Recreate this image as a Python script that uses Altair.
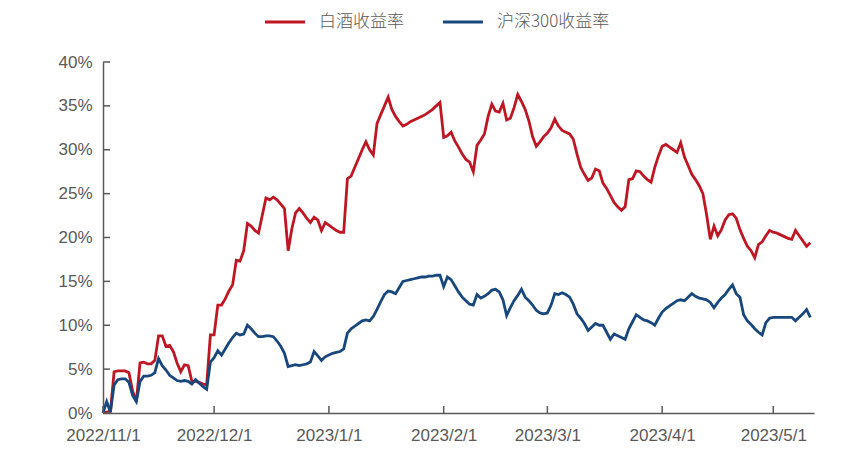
import altair as alt
import pandas as pd

# ---------------- data ----------------
start_date = "2022-11-01"
n_days = 192
series_names = ["白酒收益率", "沪深300收益率"]
series_colors = ["#BE1622", "#17477C"]

baijiu = [
    0.0, 0.1, 0.2, 4.7, 4.8, 4.8, 4.8, 4.6, 2.5, 1.3,
    5.7, 5.8, 5.6, 5.6, 6.0, 8.8, 8.8, 7.6, 7.7, 7.0,
    5.7, 4.7, 5.5, 5.4, 3.6, 3.6, 3.5, 3.3, 3.2, 8.9,
    8.9, 12.3, 12.3, 13.0, 13.9, 14.6, 17.4, 17.3, 18.5, 21.6,
    21.3, 20.8, 20.5, 22.5, 24.5, 24.3, 24.6, 24.3, 23.8, 23.3,
    18.5, 21.0, 22.8, 23.3, 22.8, 22.2, 21.7, 22.3, 22.0, 20.8,
    21.7, 21.4, 21.1, 20.8, 20.6, 20.6, 26.7, 27.0, 28.0, 29.0,
    30.0, 30.9, 30.0, 29.4, 33.0, 34.0, 35.0, 36.0, 34.6, 33.8,
    33.2, 32.7, 32.9, 33.2, 33.4, 33.6, 33.8, 34.0, 34.3, 34.6,
    35.0, 35.4, 31.4, 31.6, 32.0, 31.0, 30.3, 29.5, 28.9, 28.6,
    27.5, 30.5, 31.1, 31.8, 33.8, 35.2, 34.4, 34.3, 35.3, 33.4,
    33.6, 34.8, 36.3, 35.5, 34.6, 33.3, 31.5, 30.4, 30.9, 31.5,
    31.9, 32.5, 33.5, 32.7, 32.2, 32.0, 31.8, 31.2, 29.5, 28.0,
    27.2, 26.5, 26.8, 27.8, 27.6, 26.2, 25.6, 24.8, 24.0, 23.5,
    23.1, 23.5, 26.6, 26.7, 27.6, 27.5, 27.0, 26.6, 26.3, 28.0,
    29.3, 30.4, 30.6, 30.3, 30.0, 29.7, 30.8, 29.2, 28.2, 27.2,
    26.6, 25.9, 25.0, 22.6, 19.8, 21.3, 20.2, 20.9, 22.0, 22.6,
    22.7, 22.2, 20.9, 19.9, 19.0, 18.5, 17.7, 19.2, 19.5, 20.2,
    20.8, 20.6, 20.5, 20.3, 20.1, 19.9, 19.8, 20.8, 20.2, 19.6,
    19.0, 19.4,
]

hs300 = [
    0.0, 1.3, 0.1, 3.2, 3.8, 3.9, 3.9, 3.5, 2.0, 1.3,
    3.6, 4.2, 4.2, 4.3, 4.6, 6.2, 5.4, 4.9, 4.3, 4.0,
    3.7, 3.6, 3.7, 3.6, 3.3, 3.8, 3.4, 3.0, 2.7, 5.8,
    6.3, 7.1, 6.6, 7.3, 8.0, 8.6, 9.1, 8.9, 9.0, 10.0,
    9.6, 9.1, 8.7, 8.7, 8.8, 8.8, 8.7, 8.2, 7.6, 6.8,
    5.3, 5.4, 5.5, 5.4, 5.5, 5.6, 5.8, 7.0, 6.5, 6.0,
    6.4, 6.6, 6.8, 6.9, 7.0, 7.3, 9.1, 9.6, 9.9, 10.2,
    10.5, 10.6, 10.5, 11.0, 11.8, 12.7, 13.5, 13.9, 13.8, 13.6,
    14.3, 15.0, 15.1, 15.2, 15.3, 15.4, 15.5, 15.5, 15.6, 15.6,
    15.7, 15.7, 14.4, 15.5, 15.2, 14.5, 13.8, 13.2, 12.8, 12.4,
    12.3, 13.5, 13.1, 13.3, 13.6, 14.0, 14.1, 13.8, 12.9, 11.1,
    12.0, 12.8, 13.4, 14.1, 13.2, 12.8, 12.3, 11.7, 11.4, 11.3,
    11.4, 12.3, 13.6, 13.5, 13.7, 13.5, 13.2, 12.4, 11.3, 10.8,
    10.2, 9.4, 9.8, 10.2, 10.0, 10.0, 9.2, 8.4, 9.0, 8.8,
    8.6, 8.4, 9.6, 10.4, 11.2, 10.9, 10.6, 10.5, 10.3, 10.0,
    10.8, 11.5, 11.9, 12.2, 12.5, 12.8, 12.9, 12.8, 13.2, 13.6,
    13.3, 13.1, 13.0, 12.9, 12.6, 12.0, 12.6, 13.1, 13.5, 14.1,
    14.6, 13.6, 13.2, 11.2, 10.5, 10.1, 9.6, 9.2, 8.9, 10.3,
    10.8, 10.9, 10.9, 10.9, 10.9, 10.9, 10.9, 10.5, 10.9, 11.3,
    11.8, 10.9,
]

x_tick_dates = ["2022-11-01", "2022-12-01", "2023-01-01", "2023-02-01",
                "2023-03-01", "2023-04-01", "2023-05-01"]
y_tick_values = [0, 5, 10, 15, 20, 25, 30, 35, 40]

# ---------------- tables ----------------
dates = [d.strftime("%Y-%m-%dT00:00:00") for d in pd.date_range(start_date, periods=n_days, freq="D")]
df = pd.DataFrame({
    "date": dates * 2,
    "value": baijiu + hs300,
    "series": [series_names[0]] * n_days + [series_names[1]] * n_days,
})
xt = pd.DataFrame({"date": [d + "T00:00:00" for d in x_tick_dates]})
yt = pd.DataFrame({"value": y_tick_values})

AX = "#595959"
FONT = "Liberation Sans"
CJK = "Noto Sans CJK SC"

def dt(s):
    y, m, d = (int(p) for p in s.split("-"))
    return alt.DateTime(year=y, month=m, date=d)

x_scale = alt.Scale(domain=[dt("2022-11-01"), dt("2023-05-12")], nice=False)
y_scale = alt.Scale(domain=[0, 40], nice=False)

x_axis = alt.Axis(
    values=[dt(s) for s in x_tick_dates], format="%Y/%-m/%-d", title=None,
    ticks=False, grid=False, domainColor=AX, domainWidth=1.5,
    labelFont=FONT, labelFontSize=17, labelColor=AX, labelPadding=14,
    labelFlush=False, labelOverlap=False,
)
y_axis = alt.Axis(
    values=y_tick_values, labelExpr="datum.value + '%'", title=None,
    ticks=False, grid=False, domainColor=AX, domainWidth=1.5,
    labelFont=FONT, labelFontSize=17, labelColor=AX, labelPadding=11,
)

lines = alt.Chart(df).mark_line(strokeWidth=2.8, interpolate="linear").encode(
    x=alt.X("date:T", scale=x_scale, axis=x_axis),
    y=alt.Y("value:Q", scale=y_scale, axis=y_axis),
    color=alt.Color(
        "series:N",
        scale=alt.Scale(domain=series_names, range=series_colors),
        sort=series_names,
        legend=alt.Legend(
            title=None, orient="none", direction="horizontal",
            legendX=160, legendY=-62, padding=0,
            symbolType="stroke", symbolSize=1600, symbolStrokeWidth=3.2,
            labelFont=CJK, labelFontSize=17, labelColor=AX, labelFontWeight=300,
            labelOffset=12, columnPadding=32, symbolOffset=0,
        ),
    ),
)

xticks = alt.Chart(xt).mark_rule(color=AX, strokeWidth=1.5).encode(
    x=alt.X("date:T", scale=x_scale),
    y=alt.value(351), y2=alt.value(344),
)
yticks = alt.Chart(yt).mark_rule(color=AX, strokeWidth=1.5).encode(
    y=alt.Y("value:Q", scale=y_scale),
    x=alt.value(0), x2=alt.value(7),
)

chart = alt.layer(lines, xticks, yticks).properties(
    width=711, height=351,
    padding={"left": 103, "top": 62, "right": 45, "bottom": 51},
    autosize=alt.AutoSizeParams(type="none"),
    background="#FFFFFF",
).configure_view(stroke=None)

chart.save("out.html", embed_options={"renderer": "svg", "actions": False})
